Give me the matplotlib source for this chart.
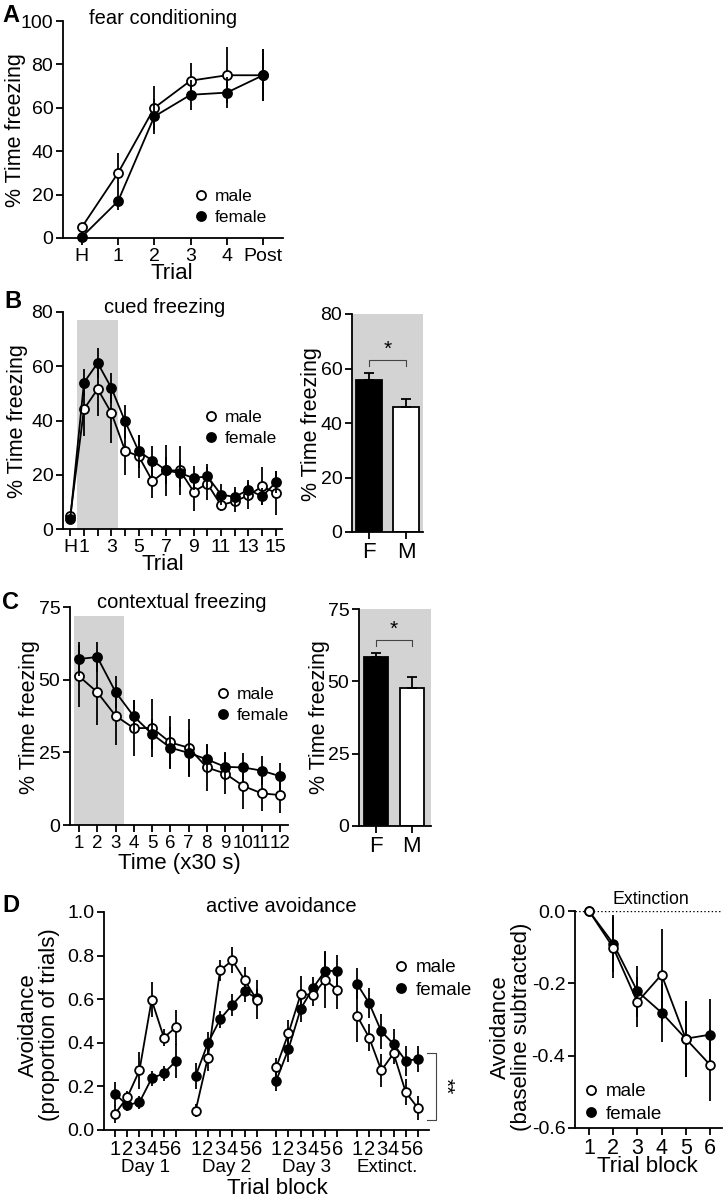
import matplotlib
matplotlib.use('Agg')
import matplotlib.pyplot as plt
from matplotlib.lines import Line2D
import matplotlib.transforms as mtransforms
import numpy as np

plt.rcParams['font.family'] = ['Liberation Sans', 'DejaVu Sans']
plt.rcParams['axes.unicode_minus'] = False

W, H = 724, 1200
GRAY = '#d3d3d3'

# ---- data ----
# A: fear conditioning
trials_a = ['H', '1', '2', '3', '4', 'Post']
male_a = [5, 30, 60, 72.5, 75, 75]
male_a_err = [1, 9, 10, 8, 13, 12]
female_a = [0.5, 17, 56, 66, 67, 75]
female_a_err = [0.5, 4, 8, 7, 7, 12]

# B: cued freezing (H, 1..15)
trials_b = ['H'] + [str(i) for i in range(1, 16)]
female_b = [3.7, 54, 61.2, 52, 39.7, 28.6, 25.2, 21.6, 20.6, 18.8, 19.4, 12.7, 11.8, 14.5, 12, 17.2]
female_b_err = [1, 5, 5.5, 5.5, 6, 6, 5.5, 5, 5, 4.5, 4.5, 4, 3.5, 3.5, 3, 4]
male_b = [4.7, 44.2, 51.6, 42.8, 28.9, 26.8, 17.6, 21.6, 21.6, 13.8, 16.7, 8.8, 10.2, 12.4, 15.7, 13.3]
male_b_err = [1, 10, 10, 11, 9, 8, 6, 9.5, 9, 7, 6, 2, 4, 5, 7, 8]
sex_bars = ['F', 'M']
bar_b = [55.8, 46.0]
bar_b_err = [2.7, 2.8]

# C: contextual freezing (bins 1..12)
bins_c = list(range(1, 13))
female_c = [57.1, 57.8, 45.8, 37.4, 31.3, 26.6, 24.8, 22.6, 20, 19.8, 18.7, 16.8]
female_c_err = [5.7, 5, 5.5, 5.5, 5, 7, 8, 5, 5, 5, 5, 4.7]
male_c = [51.2, 45.7, 37.6, 33.3, 33.4, 28.4, 26.6, 19.8, 17.7, 13.4, 10.9, 10.3]
male_c_err = [10.6, 11.3, 10, 9.6, 10, 9, 10, 8, 7, 8, 6, 6]
bar_c = [58.3, 47.6]
bar_c_err = [1.6, 3.8]

# D: active avoidance, 4 sessions x 6 blocks
sessions = ['Day 1', 'Day 2', 'Day 3', 'Extinct.']
blocks = ['1', '2', '3', '4', '5', '6']
female_d = [[0.165, 0.115, 0.127, 0.237, 0.26, 0.317],
            [0.248, 0.398, 0.508, 0.574, 0.636, 0.605],
            [0.227, 0.372, 0.556, 0.651, 0.73, 0.73],
            [0.671, 0.582, 0.452, 0.394, 0.317, 0.326]]
female_d_err = [[0.055, 0.03, 0.03, 0.035, 0.035, 0.077],
                [0.06, 0.05, 0.04, 0.05, 0.05, 0.04],
                [0.05, 0.06, 0.06, 0.05, 0.085, 0.075],
                [0.07, 0.07, 0.08, 0.07, 0.07, 0.06]]
male_d = [[0.074, 0.15, 0.273, 0.597, 0.424, 0.472],
          [0.089, 0.332, 0.732, 0.778, 0.689, 0.597],
          [0.288, 0.444, 0.623, 0.62, 0.689, 0.643],
          [0.525, 0.424, 0.273, 0.352, 0.173, 0.1]]
male_d_err = [[0.04, 0.03, 0.085, 0.08, 0.04, 0.08],
              [0.03, 0.06, 0.05, 0.06, 0.06, 0.09],
              [0.04, 0.06, 0.085, 0.05, 0.13, 0.09],
              [0.12, 0.06, 0.075, 0.05, 0.06, 0.055]]

# D right: extinction, baseline subtracted
male_ext = [0, -0.101, -0.252, -0.176, -0.353, -0.425]
male_ext_err = [0, 0.085, 0.07, 0.127, 0.105, 0.1]
female_ext = [0, -0.09, -0.222, -0.281, -0.353, -0.342]
female_ext_err = [0, 0.08, 0.07, 0.08, 0.105, 0.1]


def fx(x):
    return x / W


def fy(y):
    return 1 - y / H


def add_ax(fig, l, t, r, b):
    # pixel box -> axes
    return fig.add_axes([fx(l), fy(b), (r - l) / W, (b - t) / H])


def style(ax, labelsize=14):
    for s in ['top', 'right']:
        ax.spines[s].set_visible(False)
    for s in ['left', 'bottom']:
        ax.spines[s].set_linewidth(1.3)
    ax.tick_params(direction='out', length=5, width=1.3, labelsize=labelsize, pad=2)


def series(ax, x, y, err, filled, ms=6.5, z=3):
    ax.errorbar(x, y, yerr=err, fmt='-o', color='k', lw=1.3, elinewidth=1.3,
                capsize=0, ms=ms, mew=1.3, mec='k',
                mfc='k' if filled else 'white', clip_on=False, zorder=z)


def legend(fig, x, y, size=12.5):
    handles = [Line2D([], [], ls='none', marker='o', ms=6.5, mfc='white', mec='k', mew=1.3),
               Line2D([], [], ls='none', marker='o', ms=6.5, mfc='k', mec='k', mew=1.3)]
    fig.legend(handles, ['male', 'female'], loc='center left',
               bbox_to_anchor=(fx(x), fy(y)), frameon=False, fontsize=size,
               handlelength=0.8, handletextpad=0.4, borderpad=0, borderaxespad=0,
               labelspacing=0.3)


def bars(ax, vals, errs, ymax, yticks):
    ax.set_facecolor(GRAY)
    x = np.arange(len(sex_bars))
    ax.bar(x, vals, width=0.68, color=['k', 'white'], edgecolor='k', lw=1.3, zorder=2)
    ax.errorbar(x, vals, yerr=[[0, 0], errs], fmt='none', ecolor='k', elinewidth=1.3,
                capsize=3.5, capthick=1.3, zorder=3)
    ax.set_xticks(x)
    ax.set_xticklabels(sex_bars, fontsize=16)
    ax.set_ylim(0, ymax)
    ax.set_yticks(yticks)
    top = max(v + e for v, e in zip(vals, errs)) + ymax * 0.06
    ax.plot([0, 0, 1, 1], [top - ymax * 0.03, top, top, top - ymax * 0.03],
            color='#444444', lw=0.8)
    ax.text(0.5, top + ymax * 0.005, '*', ha='center', va='bottom', fontsize=15)


fig = plt.figure(figsize=(W / 100, H / 100), dpi=100)

# ---- A ----
ax = add_ax(fig, 63, 21, 283, 238)
style(ax)
xa = np.arange(len(trials_a))
series(ax, xa, male_a, male_a_err, False)
series(ax, xa, female_a, female_a_err, True, z=4)
ax.set_xlim(-0.52, 5.55)
ax.set_ylim(0, 100)
ax.set_yticks(range(0, 101, 20))
ax.set_xticks(xa)
ax.set_xticklabels(trials_a)
legend(fig, 194, 207)
fig.text(fx(163), fy(18), 'fear conditioning', ha='center', va='center', fontsize=14.5)
fig.text(fx(172), fy(274), 'Trial', ha='center', va='center', fontsize=16)
fig.text(fx(16), fy(130), '% Time freezing', ha='center', va='center', rotation=90, fontsize=15.5)
fig.text(fx(2), fy(15), 'A', ha='left', va='center', fontsize=17, fontweight='bold')

# ---- B ----
ax = add_ax(fig, 63, 312, 282, 529)
style(ax)
xb = np.arange(len(trials_b))
ax.axvspan(0.5, 3.5, ymin=0, ymax=77 / 80, color=GRAY, lw=0, zorder=0)
series(ax, xb, male_b, male_b_err, False)
series(ax, xb, female_b, female_b_err, True, z=4)
ax.set_xlim(-0.53, 15.45)
ax.set_ylim(0, 80)
ax.set_yticks(range(0, 81, 20))
ax.set_xticks(xb)
ax.set_xticklabels([t if (i == 0 or i % 2 == 1) else '' for i, t in enumerate(trials_b)])
legend(fig, 204, 428)
fig.text(fx(165), fy(308), 'cued freezing', ha='center', va='center', fontsize=14.5)
fig.text(fx(163), fy(564), 'Trial', ha='center', va='center', fontsize=16)
fig.text(fx(18), fy(421), '% Time freezing', ha='center', va='center', rotation=90, fontsize=15.5)
fig.text(fx(4), fy(302), 'B', ha='left', va='center', fontsize=17, fontweight='bold')

ax = add_ax(fig, 352, 314, 423, 532)
style(ax)
bars(ax, bar_b, bar_b_err, 80, range(0, 81, 20))
ax.set_xlim(-0.46, 1.46)
fig.text(fx(311), fy(424), '% Time freezing', ha='center', va='center', rotation=90, fontsize=15.5)

# ---- C ----
ax = add_ax(fig, 70, 607, 288, 825)
style(ax)
ax.axvspan(0.75, 3.45, ymin=0, ymax=72 / 75, color=GRAY, lw=0, zorder=0)
series(ax, bins_c, male_c, male_c_err, False)
series(ax, bins_c, female_c, female_c_err, True, z=4)
ax.set_xlim(0.51, 12.44)
ax.set_ylim(0, 75)
ax.set_yticks(range(0, 76, 25))
ax.set_xticks(bins_c)
ax.tick_params(axis='x', labelsize=13.5)
legend(fig, 216, 705)
fig.text(fx(182), fy(603), 'contextual freezing', ha='center', va='center', fontsize=14.5)
fig.text(fx(179), fy(864), 'Time (x30 s)', ha='center', va='center', fontsize=16)
fig.text(fx(30), fy(717), '% Time freezing', ha='center', va='center', rotation=90, fontsize=15.5)
fig.text(fx(2), fy(603), 'C', ha='left', va='center', fontsize=17, fontweight='bold')

ax = add_ax(fig, 359, 609, 431, 826)
style(ax)
bars(ax, bar_c, bar_c_err, 75, range(0, 76, 25))
ax.set_xlim(-0.47, 1.53)
fig.text(fx(319), fy(717), '% Time freezing', ha='center', va='center', rotation=90, fontsize=15.5)

# ---- D left ----
ax = add_ax(fig, 104, 912, 429, 1130)
style(ax)
gap = 6.6
xs_all = []
for g in range(len(sessions)):
    xg = g * gap + np.arange(len(blocks))
    xs_all.extend(xg)
    series(ax, xg, female_d[g], female_d_err[g], True, ms=6.3, z=3)
    series(ax, xg, male_d[g], male_d_err[g], False, ms=6.3, z=4)
    ax.text(xg.mean(), -0.17, sessions[g], transform=mtransforms.blended_transform_factory(ax.transData, ax.transAxes),
            ha='center', va='center', fontsize=13.5)
ax.set_xlim(-0.9, 25.7)
ax.set_ylim(0, 1.0)
ax.set_yticks(np.arange(0, 1.01, 0.2))
ax.set_yticklabels(['0.0', '0.2', '0.4', '0.6', '0.8', '1.0'])
ax.set_xticks(xs_all)
ax.set_xticklabels(blocks * len(sessions), fontsize=14.5)
# significance bracket for extinction
xe = xs_all[-1]
ax.plot([xe + 0.7, xe + 1.45, xe + 1.45, xe + 0.7], [0.355, 0.355, 0.046, 0.046],
        color='#444444', lw=0.8, clip_on=False)
ax.text(xe + 2.2, 0.2, '**', rotation=-90, ha='center', va='center', fontsize=15)
legend(fig, 393, 979, size=13.5)
fig.text(fx(281), fy(906), 'active avoidance', ha='center', va='center', fontsize=14.5)
fig.text(fx(277), fy(1188), 'Trial block', ha='center', va='center', fontsize=16)
fig.text(fx(39), fy(1025), 'Avoidance\n(proportion of trials)', ha='center', va='center',
         rotation=90, fontsize=16, linespacing=1.0)
fig.text(fx(2), fy(906), 'D', ha='left', va='center', fontsize=17, fontweight='bold')

# ---- D right ----
ax = add_ax(fig, 575, 911, 722, 1128)
style(ax)
xr = np.arange(1, len(blocks) + 1)
ax.axhline(0, ls=':', lw=1.0, color='k', zorder=1)
series(ax, xr, female_ext, female_ext_err, True, ms=6.3, z=3)
series(ax, xr, male_ext, male_ext_err, False, ms=6.3, z=4)
ax.set_xlim(0.42, 6.5)
ax.set_ylim(-0.6, 0)
ax.set_yticks([0, -0.2, -0.4, -0.6])
ax.set_yticklabels(['0.0', '-0.2', '-0.4', '-0.6'])
ax.set_xticks(xr)
ax.set_xticklabels(blocks, fontsize=15.5)
legend(fig, 583, 1103, size=13.5)
fig.text(fx(651), fy(900), 'Extinction', ha='center', va='center', fontsize=12.8)
fig.text(fx(647), fy(1167), 'Trial block', ha='center', va='center', fontsize=16)
fig.text(fx(511), fy(1027), 'Avoidance\n(baseline subtracted)', ha='center', va='center',
         rotation=90, fontsize=16, linespacing=1.0)

fig.savefig('out.png', dpi=100)
